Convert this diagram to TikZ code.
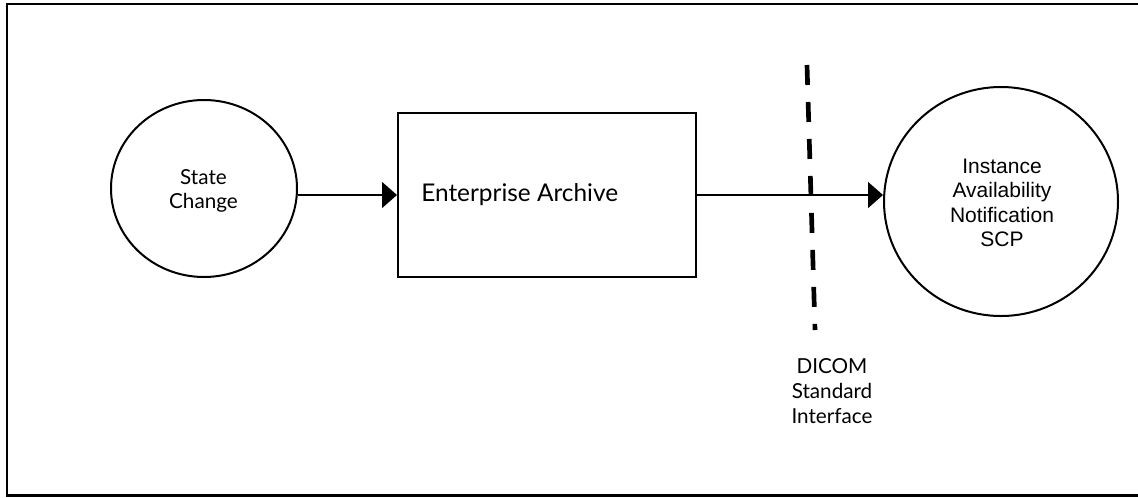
\documentclass[tikz,border=0pt]{standalone}
\usepackage{fontspec}
\newfontfamily\gefont{Lato}
\newfontfamily\arialfont{Liberation Sans}
\usetikzlibrary{arrows.meta,shapes.geometric}
\tikzset{
  ln/.style={line width=1.5pt},
  flow/.style={line width=1.1pt,-{Triangle[length=11.25pt,width=19.5pt]}},
  gtext/.style={font=\gefont\fontsize{15.5pt}{18pt}\selectfont,align=center,inner sep=0pt},
}
\begin{document}
\begin{tikzpicture}[x=0.75pt,y=-0.75pt]
\useasboundingbox (0,0) rectangle (1138,497);
% outer frame
\draw[line width=2.2pt] (1145,4) -- (7,4) -- (7,495.5) -- (1145,495.5);
% nodes
\node[ellipse,draw,ln,minimum width=139.5pt,minimum height=132.75pt,inner sep=0pt] (state) at (204,188.5) {};
\node[gtext] (statetxt) at (203.5,191) {State\\Change};
\node[rectangle,draw,ln,minimum width=223.5pt,minimum height=123pt,inner sep=0pt] (box) at (547,195) {};
\node[anchor=base west,inner sep=0pt,font=\gefont\fontsize{18.3pt}{22pt}\selectfont] (boxtxt) at (421,201) {Enterprise Archive};
\node[ellipse,draw,ln,minimum width=175.5pt,minimum height=171.75pt,inner sep=0pt] (ian) at (1001,201.5) {};
\node[inner sep=0pt,align=center,font=\arialfont\fontsize{15.75pt}{18.4pt}\selectfont] (iantxt) at (1002,203) {Instance\\Availability\\Notification\\SCP};
% interface boundary
\coordinate (dtop) at (807,65);
\coordinate (dbot) at (815,330);
\draw[line width=3.5pt,dash pattern=on 15pt off 12.75pt] (dtop) -- (dbot);
\node[gtext,font=\gefont\fontsize{15.5pt}{18.75pt}\selectfont] (dicom) at (832,391) {DICOM\\Standard\\Interface};
% connectors
\draw[flow] (state.east |- box.west) -- (box.west);
\draw[flow] (box.east) -- (ian.west |- box.east);
\end{tikzpicture}
\end{document}
